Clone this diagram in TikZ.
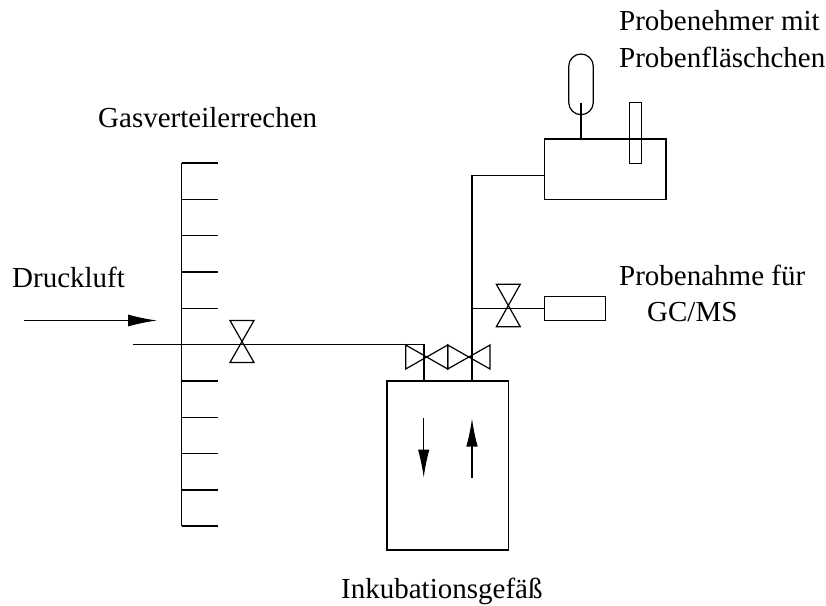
\documentclass[tikz,border=0pt]{standalone}
\usepackage{fontspec}
\setmainfont{Liberation Serif}
\usetikzlibrary{arrows.meta,calc}
\tikzset{
  pipe/.style={line width=1.2pt,line cap=butt},
  flow/.style={line width=1.2pt,-{Latex[length=29pt,width=12pt,inset=7pt]}},
  flowv/.style={line width=1.2pt,-{Latex[length=28pt,width=11.5pt,inset=6pt]}},
  box/.style={draw,line width=1.2pt,inner sep=0pt,outer sep=0pt,minimum width=#1,anchor=north west},
  lab/.style={inner sep=0pt,font=\fontsize{29}{34}\selectfont,text=black},
  valveh/.style={line width=1.2pt,line join=miter},
}
\begin{document}
\begin{tikzpicture}[x=1pt,y=-1pt]
\useasboundingbox (0,0) rectangle (826,605);
% named points
\coordinate (spineT) at (181.5,163);
\coordinate (spineB) at (181.5,526);
\coordinate (inL) at (133,344.5);
\coordinate (corner) at (424,344.5);
\coordinate (v1) at (242,344.5);
\coordinate (v4) at (508.3,308.5);
\coordinate (feed) at (424,381);
\coordinate (rise) at (472,381);
\coordinate (riseTop) at (472,175.5);
\coordinate (tee) at (472,308.5);
\node[box=121.5pt,minimum height=169pt] (vessel) at (387,381) {};
\node[box=121.3pt,minimum height=60.3pt] (sampler) at (544.7,139) {};
\node[box=61pt,minimum height=24.4pt] (gc) at (544.7,296.3) {};
\node[box=12.4pt,minimum height=61pt] (vial) at (629.3,102.3) {};
\node[box=24.6pt,minimum height=60.7pt,rounded corners=12.3pt] (capsule) at (568.7,54) {};
% comb
\draw[pipe] (spineT) -- (spineB);
\foreach \y in {163,199.5,235.5,272,308.5,381,417.5,453.5,490,526}
  \draw[pipe] (181.5,\y) -- (218,\y);
% pipes
\draw[pipe] (inL) -- (corner) -- (feed);
\draw[pipe] (rise) -- (riseTop) -- (riseTop -| sampler.west);
\draw[pipe] (tee) -- (tee -| gc.west);
\draw[pipe] (581,102.7) -- (581,139);
% valves
\draw[valveh] ($(v1)+(-12,-24)$) -- ($(v1)+(12,-24)$) -- ($(v1)+(-12,18)$) -- ($(v1)+(12,18)$) -- cycle;
\draw[valveh] ($(v4)+(-12,-24.3)$) -- ($(v4)+(12,-24.3)$) -- ($(v4)+(-12,18.3)$) -- ($(v4)+(12,18.3)$) -- cycle;
\draw[valveh] (405.7,345) -- (447.7,369) -- (447.7,345) -- (405.7,369) -- cycle;
\draw[valveh] (447.7,345) -- (490,369) -- (490,345) -- (447.7,369) -- cycle;
% arrows
\coordinate (a1s) at (24,320.5); \coordinate (a1e) at (157,320.5);
\coordinate (a2s) at (423.7,418); \coordinate (a2e) at (423.7,477.5);
\coordinate (a3s) at (472,478); \coordinate (a3e) at (472,418.5);
\draw[flow] (a1s) -- (a1e);
\draw[flowv] (a2s) -- (a2e);
\draw[flowv] (a3s) -- (a3e);
% labels
\node[lab,anchor=base west] (t1) at (619,30) {Probenehmer mit};
\node[lab,anchor=base west] (t2) at (619,67) {Probenfläschchen};
\node[lab,anchor=base west] (t3) at (98,127) {Gasverteilerrechen};
\node[lab,anchor=base west] (t4) at (12,287) {Druckluft};
\node[lab,anchor=base west] (t5) at (619,285) {Probenahme für};
\node[lab,anchor=base west] (t6) at (647,321) {GC/MS};
\node[lab,anchor=base west] (t7) at (341,598) {Inkubationsgefäß};
\end{tikzpicture}
\end{document}
